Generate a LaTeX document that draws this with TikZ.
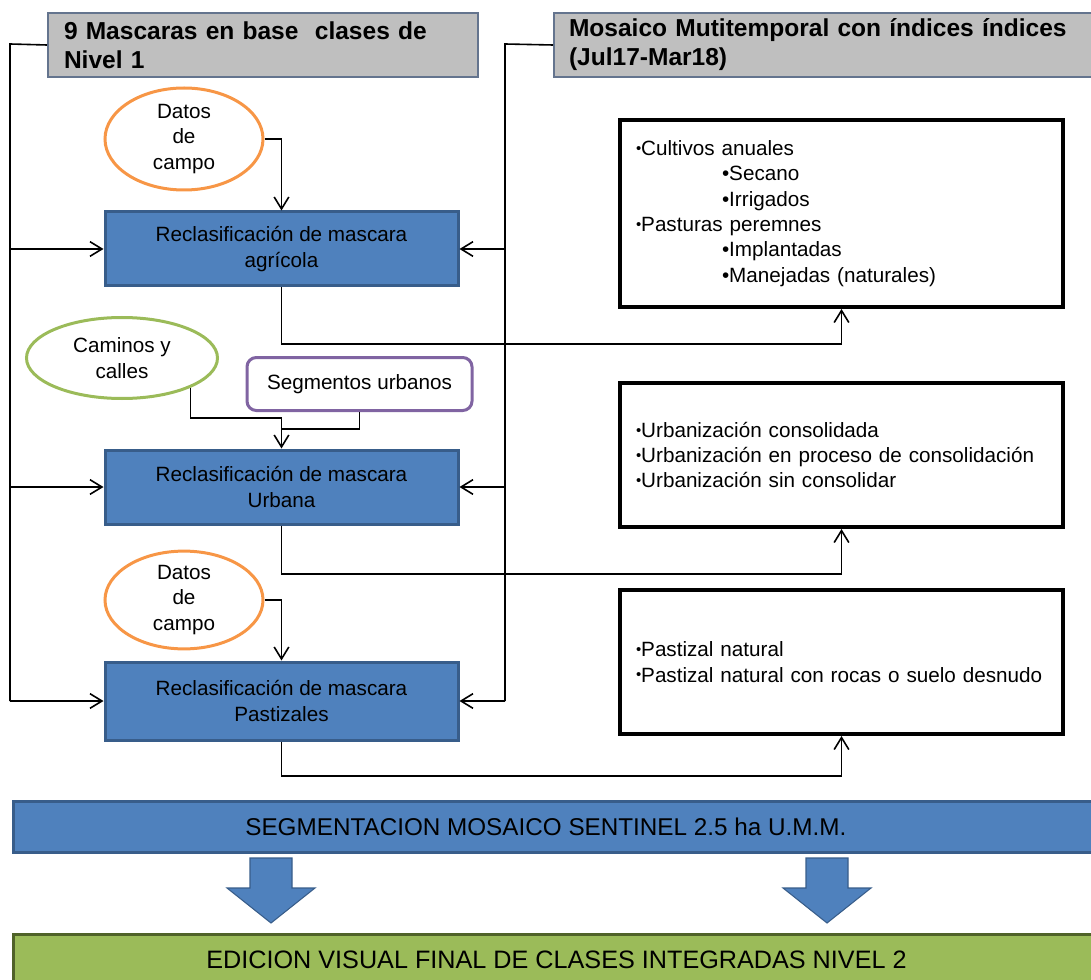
\documentclass[tikz,border=0pt]{standalone}
\usepackage{fontspec}
\setmainfont{Liberation Sans}
\usepackage{graphicx}
\usetikzlibrary{shapes.geometric, arrows.meta}
\definecolor{hdgray}{RGB}{191,191,191}
\definecolor{hdline}{RGB}{100,116,142}
\definecolor{maskblue}{RGB}{79,129,189}
\definecolor{maskline}{RGB}{56,93,138}
\definecolor{campo}{RGB}{247,150,70}
\definecolor{caminos}{RGB}{155,187,89}
\definecolor{urbpurple}{RGB}{128,100,162}
\definecolor{editgreen}{RGB}{155,187,89}
\definecolor{editline}{RGB}{79,98,40}
\newcommand{\bodyfont}{\fontsize{15.5}{19}\selectfont}
\newcommand{\hdrfont}{\fontsize{18.4}{21.75}\selectfont\bfseries}
\newcommand{\barfont}{\fontsize{18.2}{21}\selectfont}
\newcommand{\smb}{\raisebox{.1em}{\scalebox{.72}{•}}}
\newcommand{\sbi}{\hspace*{64.5pt}•}

\begin{document}
\begin{tikzpicture}[x=0.75pt, y=-0.75pt,
        conn/.style={line width=1.2pt},
        arr/.style={conn, -{Straight Barb[length=9pt, width=11pt]}},
        hdr/.style={draw=hdline, line width=1.5pt, fill=hdgray, font=\hdrfont, align=left,
            anchor=north west, inner xsep=12pt, inner ysep=0pt, minimum height=48pt},
        maskbox/.style={draw=maskline, line width=2.25pt, fill=maskblue, font=\bodyfont,
            align=center, minimum width=264.75pt, minimum height=55.5pt},
        clsbox/.style={draw, line width=3pt, font=\bodyfont, align=left, inner xsep=12pt,
            text width=308.25pt, minimum width=332.25pt},
        oval/.style={ellipse, line width=2.25pt, font=\bodyfont, align=center, inner sep=0pt},
        bigbar/.style={line width=2.25pt, font=\barfont, minimum width=815.25pt, minimum height=38.25pt},
        blockarrow/.style={draw=maskline, line width=0.8pt, fill=maskblue}]
    \useasboundingbox (0,0) rectangle (1091,980);

    \node[hdr, text width=298.5pt] (m1) at (47,12) {9 Mascaras en base\ \ clases de\\Nivel 1};
    \node[hdr, text width=391.5pt, inner xsep=11.25pt] (m2) at (553,12)
        {Mosaico Mutitemporal con índices índices\\(Jul17-Mar18)};

    \node[oval, draw=campo, minimum width=118.5pt, minimum height=76.5pt] (d1) at (184,139) {Datos\\de\\campo};
    \node[maskbox] (agri) at (281.5,249) {Reclasificación de mascara\\agrícola};

    \node[oval, draw=caminos, minimum width=143.25pt, minimum height=60.75pt] (cam) at (122,358) {Caminos y\\calles};
    \node[draw=urbpurple, line width=2.25pt, rounded corners=7pt, font=\bodyfont,
        minimum width=168.75pt, minimum height=39.75pt] (seg) at (359.5,384) {Segmentos urbanos};
    \node[maskbox] (urb) at (281.5,487) {Reclasificación de mascara\\Urbana};

    \node[oval, draw=campo, minimum width=118.5pt, minimum height=71.25pt] (d2) at (184,600) {Datos\\de\\campo};
    \node[maskbox, minimum height=58.5pt] (past) at (281.5,701) {Reclasificación de mascara\\Pastizales};

    \node[clsbox, minimum height=140.25pt] (rb1) at (841.5,213.5) {\smb Cultivos anuales\\
        \sbi Secano\\ \sbi Irrigados\\ \smb Pasturas peremnes\\ \sbi Implantadas\\ \sbi Manejadas (naturales)};
    \node[clsbox, minimum height=108pt] (rb2) at (841.5,455) {\smb Urbanización consolidada\\
        \smb Urbanización en proceso de consolidación\\ \smb Urbanización sin consolidar};
    \node[clsbox, minimum height=108pt] (rb3) at (841.5,662) {\smb Pastizal natural\\
        \smb Pastizal natural con rocas o suelo desnudo};

    % trunks from the two headers
    \coordinate (L) at (10,44);
    \coordinate (R) at (505,44);
    \draw[conn] (m1.west) -- (L) -- (L |- past.west);
    \draw[conn] (m2.west) -- (R) -- (R |- past.east);
    \foreach \b in {agri, urb, past} {
        \draw[arr] (L |- \b.west) -- (\b.west);
        \draw[arr] (R |- \b.east) -- (\b.east);
    }

    \draw[arr] (d1.east) -| (agri.north);
    \draw[arr] (d2.east) -| (past.north);
    \draw[arr] (cam.south east) |- (urb.north |- 0,418) -- (urb.north);
    \draw[conn] (seg.south) |- (urb.north |- 0,429);

    \draw[arr] (agri.south) -- (agri.south |- 0,344) -| (rb1.south);
    \draw[arr] (urb.south) -- (urb.south |- 0,574) -| (rb2.south);
    \draw[arr] (past.south) -- (past.south |- 0,776) -| (rb3.south);

    \node[bigbar, draw=maskline, fill=maskblue] (segbar) at (556.5,826.5) {SEGMENTACION MOSAICO SENTINEL 2.5 ha U.M.M.\hspace*{16pt}};
    \foreach \cx in {271, 827}
        \draw[blockarrow] (\cx-21,858) -- (\cx+21,858) -- (\cx+21,888) -- (\cx+44,888)
            -- (\cx,923) -- (\cx-44,888) -- (\cx-21,888) -- cycle;
    \node[bigbar, draw=editline, fill=editgreen, minimum height=39pt, font=\fontsize{18.9}{21}\selectfont] (edit) at (556.5,960)
        {EDICION VISUAL FINAL DE CLASES INTEGRADAS NIVEL 2};
\end{tikzpicture}
\end{document}
